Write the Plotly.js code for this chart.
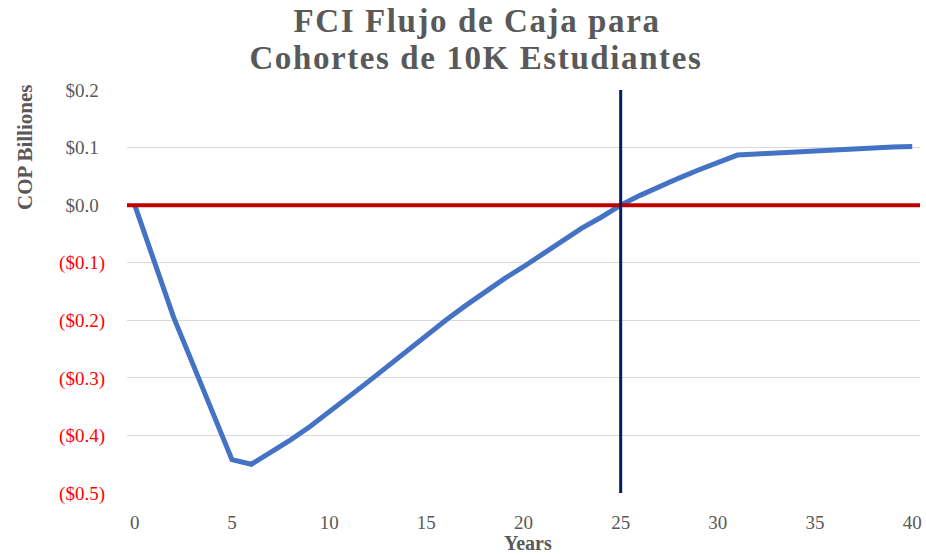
<!DOCTYPE html>
<html>
<head>
<meta charset="utf-8">
<script src="https://cdn.plot.ly/plotly-3.0.1.min.js"></script>
<style>
html,body{margin:0;padding:0;background:#fff;}
#chart{width:926px;height:555px;}
#chart .gtitle, #chart .annotation[data-index="0"] text{letter-spacing:1.6px;}
</style>
</head>
<body>
<div id="chart"></div>
<script>
const years = [0,1,2,3,4,5,6,7,8,9,10,11,12,13,14,15,16,17,18,19,20,21,22,23,24,25,26,27,28,29,30,31,32,33,34,35,36,37,38,39,40];
const cashFlow = [0,-0.100,-0.195,-0.277,-0.360,-0.442,-0.450,-0.430,-0.408,-0.385,-0.360,-0.333,-0.307,-0.280,-0.253,-0.226,-0.200,-0.175,-0.151,-0.128,-0.107,-0.085,-0.062,-0.040,-0.021,0.000,0.017,0.033,0.047,0.061,0.074,0.087,0.089,0.091,0.093,0.095,0.097,0.099,0.100,0.101,0.102];
const paybackYear = 25;
const breakEvenValue = 0;
const yTickVals = [0.2,0.1,0,-0.1,-0.2,-0.3,-0.4,-0.5];
const yTickLabels = ['$0.2','$0.1','$0.0','($0.1)','($0.2)','($0.3)','($0.4)','($0.5)'];
const xTickVals = [0,5,10,15,20,25,30,35,40];
const titleLines = ['FCI Flujo de Caja para','Cohortes de 10K Estudiantes'];
const yTitle = 'COP Billiones';
const xTitle = 'Years';

const serif = 'Liberation Serif, Times New Roman, serif';
const gray = '#595959';
const yTickText = yTickLabels.map(t => t.startsWith('(')
  ? '<span style="color:#ff0000">' + t + '</span>'
  : t + '<span style="color:rgba(0,0,0,0)">)</span>');

const trace = {
  x: years, y: cashFlow, type: 'scatter', mode: 'lines',
  line: {color: '#4472C4', width: 5}, hoverinfo: 'skip'
};

const layout = {
  width: 926, height: 555,
  margin: {l: 127, r: 6, t: 90, b: 62},
  paper_bgcolor: '#fff', plot_bgcolor: '#fff',
  showlegend: false,
  title: {
    text: '<b>' + titleLines[0] + '</b>',
    font: {family: serif, size: 33, color: gray},
    x: 477 / 926, xref: 'container', xanchor: 'center',
    y: 1 - 20.5 / 555, yref: 'container', yanchor: 'middle'
  },
  xaxis: {
    range: [-0.4, 40.4], tickvals: xTickVals, ticks: '', showgrid: false,
    zeroline: false, showline: false,
    tickfont: {family: serif, size: 19, color: gray}, ticklabelstandoff: 16
  },
  yaxis: {
    range: [-0.5, 0.2], tickvals: yTickVals, ticktext: yTickText, ticks: '',
    showgrid: true, gridcolor: '#d9d9d9', gridwidth: 1,
    zeroline: false, showline: false,
    tickfont: {family: serif, size: 19, color: gray}, ticklabelstandoff: 21
  },
  shapes: [
    {type: 'line', xref: 'paper', x0: 0, x1: 1, yref: 'y', y0: breakEvenValue, y1: breakEvenValue,
     line: {color: '#C00000', width: 4}, layer: 'above'},
    {type: 'line', xref: 'x', x0: paybackYear, x1: paybackYear, yref: 'paper', y0: 0, y1: 1,
     line: {color: '#002060', width: 3}, layer: 'above'}
  ],
  annotations: [
    {text: '<b>' + titleLines[1] + '</b>', xref: 'paper', yref: 'paper', x: (476 - 127) / 793, y: 1 + (90 - 57.5) / 403,
     xanchor: 'center', yanchor: 'middle', showarrow: false, font: {family: serif, size: 33, color: gray}},
    {text: yTitle, xref: 'paper', yref: 'paper', x: (25 - 127) / 793, y: (493 - 148) / 403,
     xanchor: 'center', yanchor: 'middle',
     textangle: -90, showarrow: false, font: {family: serif, size: 21, color: gray, weight: 'bold'}},
    {text: xTitle, xref: 'paper', yref: 'paper', x: (528 - 127) / 793, y: (493 - 556) / 403,
     xanchor: 'center', yanchor: 'bottom',
     showarrow: false, font: {family: serif, size: 20, color: gray, weight: 'bold'}}
  ]
};

Plotly.newPlot('chart', [trace], layout, {displayModeBar: false, staticPlot: true});
</script>
</body>
</html>
